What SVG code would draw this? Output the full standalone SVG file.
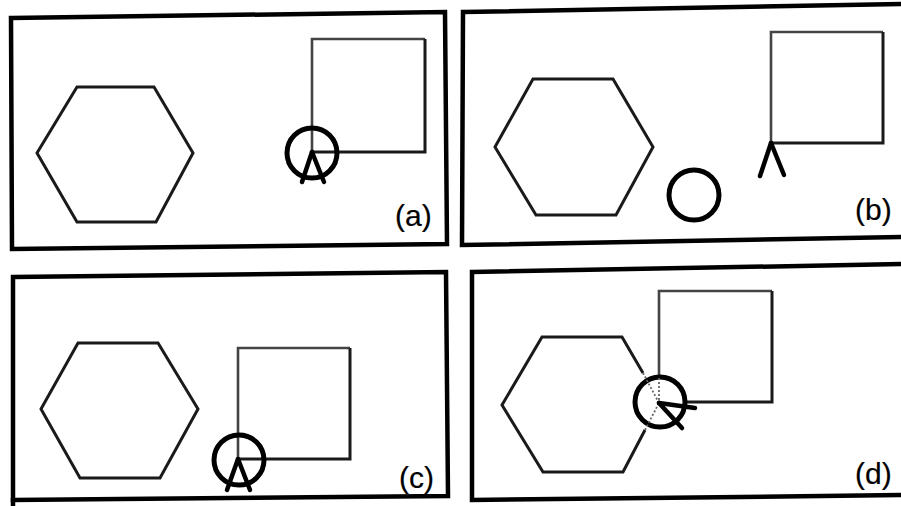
<svg xmlns="http://www.w3.org/2000/svg" width="901" height="506" viewBox="0 0 901 506">
<style>
.frame{fill:none;stroke:#000;stroke-width:4.5;stroke-linejoin:miter}
.hex{fill:none;stroke:#1a1a1a;stroke-width:3;stroke-linejoin:miter}
.sq{fill:none;stroke:#1a1a1a;stroke-width:3}
.sqlight{fill:none;stroke:#444;stroke-width:2.6}
.ring{fill:none;stroke:#000;stroke-width:5}
.leg{stroke:#000;stroke-width:4.5;stroke-linecap:round;fill:none}
.dot{stroke:#666;stroke-width:1.8;stroke-dasharray:2 2;fill:none}
.lbl{font-family:"Liberation Sans",Arial,sans-serif;font-size:30px;fill:#000;stroke:#000;stroke-width:0.2}
</style>
<rect width="901" height="506" fill="#fff"/>

<g id="panel-a">
  <polygon class="frame" points="11,18 445,12 447,244 12,249"/>
  <g id="a-hexagon"><polygon class="hex" points="77,87 154,87 193,153 156,222 77,222 37,153"/></g>
  <g id="a-square">
    <path class="sqlight" d="M312,152 L312,39 L425,39"/>
    <path class="sq" d="M425,39 L425,152 L312,152"/>
  </g>
  <g id="a-circle"><circle class="ring" cx="312" cy="153" r="25"/></g>
  <text class="lbl" x="395" y="226">(a)</text>
</g>

<g id="panel-b">
  <polygon class="frame" points="463,12 906,4 906,237 462,245"/>
  <g id="b-hexagon"><polygon class="hex" points="533,79 613,79 653,147 616,215 536,215 495,147"/></g>
  <g id="b-square">
    <path class="sqlight" d="M771,143 L771,32 L883,32"/>
    <path class="sq" d="M883,32 L883,143 L771,143"/>
  </g>
  <g id="b-circle"><circle class="ring" cx="694" cy="195" r="25"/></g>
  <text class="lbl" x="855" y="220">(b)</text>
</g>

<g id="panel-c">
  <polygon class="frame" points="13,277 446,272 448,496 13,500"/>
  <line x1="13" y1="498" x2="13" y2="506" stroke="#000" stroke-width="4.5"/>
  <g id="c-hexagon"><polygon class="hex" points="78,343 158,343 198,409 160,478 80,478 41,409"/></g>
  <g id="c-square">
    <path class="sqlight" d="M238,459 L238,348 L350,348"/>
    <path class="sq" d="M350,348 L350,459 L238,459"/>
  </g>
  <g id="c-circle"><circle class="ring" cx="239" cy="460" r="25"/></g>
  <text class="lbl" x="399" y="488">(c)</text>
</g>

<g id="panel-d">
  <polygon class="frame" points="472,272 906,264 906,495 472,500"/>
  <g id="d-hexagon">
    <path class="hex" d="M643,373 L622,337 L542,337 L502,405 L543,472 L623,472 L645,430"/>
  </g>
  <g id="d-square">
    <path class="sqlight" d="M659,378 L659,291 L772,291"/>
    <path class="sq" d="M772,291 L772,402 L684,402"/>
  </g>
  <g id="d-circle"><circle class="ring" cx="660" cy="402" r="25"/></g>
  <text class="lbl" x="855" y="484">(d)</text>
</g>

<g id="connectors">
  <line class="leg" x1="312" y1="152" x2="302" y2="182"/>
  <line class="leg" x1="312" y1="152" x2="324" y2="182"/>
  <line class="leg" x1="771" y1="143" x2="760" y2="176"/>
  <line class="leg" x1="771" y1="143" x2="784" y2="175"/>
  <line class="leg" x1="238" y1="459" x2="227" y2="490"/>
  <line class="leg" x1="238" y1="459" x2="250" y2="490"/>
  <line class="dot" x1="643" y1="373" x2="659" y2="403"/>
  <line class="dot" x1="645" y1="430" x2="659" y2="403"/>
  <line class="dot" x1="659" y1="378" x2="659" y2="403"/>
  <line class="leg" x1="659" y1="403" x2="695" y2="408"/>
  <line class="leg" x1="659" y1="403" x2="682" y2="428"/>
</g>
</svg>
